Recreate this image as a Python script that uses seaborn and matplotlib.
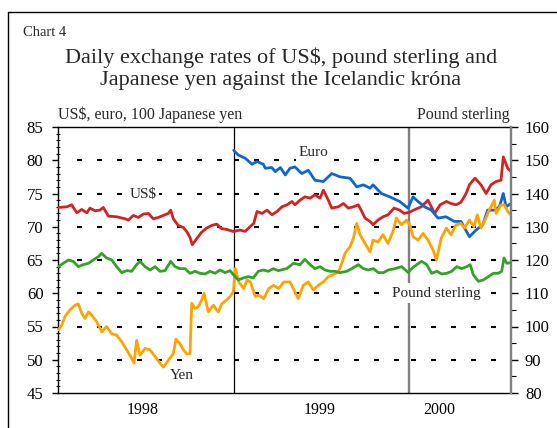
import matplotlib
matplotlib.use("Agg")
import matplotlib.pyplot as plt
import matplotlib.transforms as mtransforms
from matplotlib.lines import Line2D
from matplotlib.ticker import MultipleLocator
import seaborn as sns

# ---------------- data (x = fractional year) ----------------
usd_t = [1998.002, 1998.050, 1998.078, 1998.107, 1998.135, 1998.164, 1998.182, 1998.211, 1998.239, 1998.258,
         1998.287, 1998.334, 1998.382, 1998.401, 1998.429, 1998.458, 1998.486, 1998.515, 1998.543, 1998.572,
         1998.600, 1998.628, 1998.642, 1998.657, 1998.685, 1998.714, 1998.733, 1998.752, 1998.765, 1998.790,
         1998.819, 1998.847, 1998.876, 1998.904, 1998.933, 1998.961, 1998.999, 1999.037, 1999.066, 1999.094,
         1999.115, 1999.134, 1999.162, 1999.191, 1999.219, 1999.248, 1999.276, 1999.305, 1999.333, 1999.350,
         1999.379, 1999.407, 1999.436, 1999.464, 1999.493, 1999.512, 1999.540, 1999.560, 1999.597, 1999.626,
         1999.654, 1999.683, 1999.711, 1999.731, 1999.749, 1999.778, 1999.795, 1999.823, 1999.852, 1999.880,
         1999.915, 1999.947, 1999.972, 2000.004, 2000.034, 2000.070, 2000.108, 2000.146, 2000.177, 2000.213,
         2000.239, 2000.268, 2000.296, 2000.325, 2000.344, 2000.365, 2000.376, 2000.410, 2000.439, 2000.467,
         2000.496, 2000.524, 2000.537, 2000.562, 2000.581]
usd = [72.9, 73.0, 73.3, 72.1, 72.6, 72.1, 72.8, 72.4, 72.5, 72.9,
       71.6, 71.5, 71.2, 71.0, 71.7, 71.4, 71.9, 72.0, 71.2, 71.4,
       71.7, 72.0, 72.5, 71.2, 70.2, 69.9, 69.3, 68.4, 67.3, 68.2,
       69.2, 69.8, 70.2, 70.4, 69.7, 69.6, 69.3, 69.5, 69.3, 70.0,
       70.5, 72.3, 72.0, 72.5, 71.8, 72.3, 73.0, 73.3, 73.8, 73.3,
       74.0, 74.5, 74.3, 74.8, 74.3, 75.5, 74.0, 72.8, 73.0, 73.5,
       72.8, 73.0, 73.3, 72.3, 71.3, 70.8, 70.3, 71.0, 71.5, 71.8,
       72.8, 72.5, 72.0, 72.2, 72.6, 73.0, 74.0, 72.0, 73.3, 73.8,
       73.5, 73.3, 73.7, 75.0, 76.3, 77.0, 77.3, 76.3, 75.0, 76.3,
       76.8, 77.0, 80.5, 78.8, 78.3]

euro_t = [1999.001, 1999.026, 1999.067, 1999.105, 1999.134, 1999.170, 1999.181, 1999.218, 1999.238, 1999.267,
          1999.295, 1999.322, 1999.350, 1999.389, 1999.426, 1999.464, 1999.512, 1999.560, 1999.607, 1999.664,
          1999.702, 1999.740, 1999.778, 1999.795, 1999.842, 1999.890, 1999.947, 1999.994, 2000.023, 2000.051,
          2000.089, 2000.127, 2000.165, 2000.211, 2000.258, 2000.296, 2000.344, 2000.382, 2000.420, 2000.448,
          2000.486, 2000.515, 2000.537, 2000.553, 2000.581]
euro = [81.5, 80.8, 80.3, 79.4, 79.8, 79.4, 78.8, 78.9, 78.3, 78.9,
        77.8, 78.8, 79.0, 78.0, 78.5, 77.0, 76.8, 78.0, 77.5, 77.3,
        76.0, 76.3, 75.8, 76.3, 75.0, 74.5, 73.8, 72.8, 74.5, 73.8,
        73.0, 72.5, 71.3, 71.5, 70.8, 70.8, 68.5, 69.5, 70.3, 72.5,
        72.5, 73.0, 75.0, 73.0, 73.5]

yen_t = [1998.002, 1998.021, 1998.040, 1998.068, 1998.097, 1998.116, 1998.135, 1998.154, 1998.173, 1998.192,
         1998.221, 1998.249, 1998.277, 1998.306, 1998.334, 1998.363, 1998.391, 1998.420, 1998.433, 1998.448,
         1998.467, 1998.496, 1998.524, 1998.553, 1998.581, 1998.600, 1998.628, 1998.657, 1998.672, 1998.695,
         1998.714, 1998.733, 1998.752, 1998.762, 1998.781, 1998.799, 1998.819, 1998.832, 1998.856, 1998.885,
         1998.913, 1998.933, 1998.961, 1998.980, 1998.999, 1999.010, 1999.030, 1999.058, 1999.077, 1999.096,
         1999.124, 1999.144, 1999.172, 1999.201, 1999.229, 1999.258, 1999.286, 1999.322, 1999.341, 1999.369,
         1999.398, 1999.426, 1999.455, 1999.483, 1999.512, 1999.540, 1999.569, 1999.597, 1999.617, 1999.635,
         1999.664, 1999.683, 1999.702, 1999.721, 1999.749, 1999.778, 1999.795, 1999.823, 1999.852, 1999.880,
         1999.909, 1999.928, 1999.956, 1999.985, 2000.004, 2000.023, 2000.051, 2000.080, 2000.108, 2000.137,
         2000.156, 2000.184, 2000.213, 2000.239, 2000.268, 2000.296, 2000.315, 2000.344, 2000.370, 2000.389,
         2000.410, 2000.429, 2000.457, 2000.486, 2000.496, 2000.524, 2000.543, 2000.562, 2000.581]
yen = [54.5, 55.2, 56.5, 57.5, 58.2, 58.4, 57.0, 56.2, 57.2, 56.7,
       55.7, 54.2, 55.0, 53.9, 53.7, 52.7, 51.5, 50.2, 49.5, 52.9,
       50.7, 51.7, 51.5, 50.5, 49.5, 48.9, 49.9, 50.9, 53.1, 52.4,
       51.5, 50.9, 50.9, 58.5, 57.7, 58.0, 59.0, 60.0, 57.2, 58.2,
       57.2, 58.4, 59.0, 59.5, 60.2, 63.7, 61.7, 60.7, 62.0, 61.7,
       59.5, 59.7, 59.2, 60.7, 61.2, 60.7, 61.7, 61.7, 60.7, 59.2,
       61.2, 61.7, 60.5, 61.2, 61.7, 62.5, 62.8, 63.2, 64.5, 66.0,
       67.0, 68.3, 70.5, 68.8, 67.5, 66.2, 68.0, 67.7, 68.8, 67.5,
       69.3, 71.3, 70.3, 71.0, 70.3, 68.5, 68.0, 69.0, 68.0, 66.5,
       65.0, 68.3, 69.8, 68.8, 70.3, 70.5, 69.8, 71.0, 70.0, 71.8,
       69.8, 70.8, 72.5, 74.0, 72.0, 73.3, 73.3, 72.3, 71.8]

gbp_t = [1998.002, 1998.030, 1998.059, 1998.087, 1998.116, 1998.144, 1998.173, 1998.201, 1998.230, 1998.249,
         1998.277, 1998.306, 1998.334, 1998.363, 1998.391, 1998.420, 1998.448, 1998.467, 1998.496, 1998.524,
         1998.553, 1998.581, 1998.610, 1998.642, 1998.667, 1998.695, 1998.724, 1998.752, 1998.781, 1998.809,
         1998.838, 1998.866, 1998.895, 1998.923, 1998.952, 1998.980, 1998.999, 1999.027, 1999.056, 1999.084,
         1999.113, 1999.141, 1999.170, 1999.198, 1999.227, 1999.255, 1999.303, 1999.341, 1999.379, 1999.407,
         1999.436, 1999.464, 1999.493, 1999.521, 1999.550, 1999.578, 1999.607, 1999.645, 1999.674, 1999.711,
         1999.740, 1999.768, 1999.797, 1999.825, 1999.854, 1999.882, 1999.920, 1999.958, 1999.996, 2000.015,
         2000.044, 2000.072, 2000.101, 2000.129, 2000.158, 2000.186, 2000.215, 2000.243, 2000.272, 2000.300,
         2000.329, 2000.348, 2000.366, 2000.395, 2000.423, 2000.452, 2000.481, 2000.509, 2000.528, 2000.541,
         2000.557, 2000.579]
gbp = [118.0, 119.0, 120.0, 119.6, 118.0, 118.6, 119.0, 120.0, 121.0, 122.0,
       120.6, 120.0, 118.0, 116.2, 116.8, 116.6, 118.6, 119.6, 118.0, 117.0,
       118.0, 116.6, 116.8, 119.6, 118.0, 117.4, 117.4, 116.0, 116.6, 116.0,
       115.8, 116.6, 116.0, 117.0, 116.2, 116.8, 115.6, 114.0, 114.6, 115.0,
       114.6, 116.6, 117.0, 116.6, 117.4, 116.8, 117.4, 119.0, 118.6, 120.2,
       118.6, 117.4, 118.0, 117.0, 116.6, 116.6, 116.2, 116.6, 117.4, 118.6,
       117.4, 117.0, 117.4, 116.2, 116.2, 117.0, 117.4, 118.0, 116.2, 117.4,
       118.6, 119.6, 118.6, 116.0, 116.6, 115.8, 116.0, 116.6, 118.0, 117.4,
       118.0, 118.6, 115.6, 113.6, 114.0, 115.0, 116.0, 116.0, 116.6, 120.6,
       119.0, 119.2]

left_ticks = [45, 50, 55, 60, 65, 70, 75, 80, 85]
right_ticks = [80, 90, 100, 110, 120, 130, 140, 150, 160]
grid_levels = [50, 55, 60, 65, 70, 75, 80]
year_labels = ["1998", "1999", "2000"]
year_label_x = [1998.484, 1999.493, 2000.174]

# ---------------- style ----------------
sns.set_theme(style="white")
plt.rcParams['font.family'] = ['Liberation Serif', 'DejaVu Serif']
plt.rcParams['lines.scale_dashes'] = False

W, H = 557, 428
fig = plt.figure(figsize=(W / 100, H / 100), dpi=100)
ax = fig.add_axes([58 / W, 1 - 393 / H, (511 - 58) / W, (393 - 127) / H])
ax2 = ax.twinx()

x_end = 2000.581
ax.set_xlim(1998.0, x_end)
ax.set_ylim(45, 85)
ax2.set_ylim(80, 160)

c_red, c_blue, c_orange, c_green = '#d42222', '#0f66d0', '#ffa300', '#35a128'

# gridlines (segments between year boundaries)
segments = [(1998.108, 1999.0), (1999.004, 2000.0), (2000.011, x_end)]
for x0, x1 in segments:
    ax.hlines(grid_levels, x0, x1, colors='black', linewidth=1.5,
              linestyles=[(0, (3.6, 10.8))], zorder=1)

ax.axvline(1999, color='black', lw=0.9, zorder=1.5)
ax.axvline(2000, color='#808080', lw=1.7, zorder=1.5)

lw = 2.0
sns.lineplot(x=usd_t, y=usd, ax=ax, color=c_red, lw=lw, estimator=None, zorder=3)
sns.lineplot(x=euro_t, y=euro, ax=ax, color=c_blue, lw=lw, estimator=None, zorder=3)
sns.lineplot(x=yen_t, y=yen, ax=ax, color=c_orange, lw=lw, estimator=None, zorder=3)
sns.lineplot(x=gbp_t, y=gbp, ax=ax2, color=c_green, lw=lw, estimator=None, zorder=3)

# ticks
ax.set_xticks([])
ax.set_yticks(left_ticks)
ax.yaxis.set_minor_locator(MultipleLocator(1))
ax.tick_params(axis='y', which='major', left=True, direction='out', length=4.5, width=1,
               color='black', labelsize=12, pad=6, labelcolor='black')
ax.tick_params(axis='y', which='minor', left=True, direction='inout', length=3.5, width=0.8, color='black')
ax2.set_yticks(right_ticks)
ax2.yaxis.set_minor_locator(MultipleLocator(5))
ax2.tick_params(axis='y', which='major', right=True, left=False, direction='out', length=5, width=1,
                color='black', labelsize=12, pad=5, labelcolor='black')
ax2.tick_params(axis='y', which='minor', right=True, left=False, direction='out', length=3.5, width=0.8,
                color='black')
for a in (ax, ax2):
    a.set_xlabel('')
    a.set_ylabel('')

for s in ['left', 'top', 'bottom']:
    ax.spines[s].set_color('black')
    ax.spines[s].set_linewidth(1.0)
    ax2.spines[s].set_visible(False)
ax.spines['right'].set_visible(False)
ax2.spines['right'].set_color('#808080')
ax2.spines['right'].set_linewidth(1.7)

# year labels
trans = mtransforms.blended_transform_factory(ax.transData, ax.transAxes)
for xl, lab in zip(year_label_x, year_labels):
    ax.text(xl, -0.064, lab, transform=trans, ha='center', va='center', fontsize=11.5, color='black')

# inline series labels
box = dict(facecolor='white', edgecolor='none', pad=1.5)
ax.text(1998.487, 74.9, "US$", ha='center', va='center', fontsize=11, bbox=box, zorder=4)
ax.text(1999.453, 81.1, "Euro", ha='center', va='center', fontsize=11, bbox=box, zorder=4)
ax.text(1998.704, 47.7, "Yen", ha='center', va='center', fontsize=11, bbox=box, zorder=4)
ax2.text(2000.154, 110, "Pound sterling", ha='center', va='center', fontsize=11,
         bbox=dict(facecolor='white', edgecolor='none', pad=2.5), zorder=4)

# titles
fig.text(23 / W, 1 - 33 / H, "Chart 4", ha='left', va='center', fontsize=10.5)
fig.text(281 / W, 1 - 58 / H, "Daily exchange rates of US$, pound sterling and",
         ha='center', va='center', fontsize=16)
fig.text(281 / W, 1 - 80 / H, "Japanese yen against the Icelandic króna",
         ha='center', va='center', fontsize=16)
fig.text(58 / W, 1 - 115 / H, "US$, euro, 100 Japanese yen", ha='left', va='center', fontsize=11.5)
fig.text(510 / W, 1 - 115 / H, "Pound sterling", ha='right', va='center', fontsize=11.5)

# frame
fig.add_artist(Line2D([8 / W, 8 / W], [0, 1 - 12 / H], transform=fig.transFigure, color='black', lw=1))
fig.add_artist(Line2D([8 / W, 1], [1 - 12 / H, 1 - 12 / H], transform=fig.transFigure, color='black', lw=1))

fig.savefig('out.png', dpi=100)
